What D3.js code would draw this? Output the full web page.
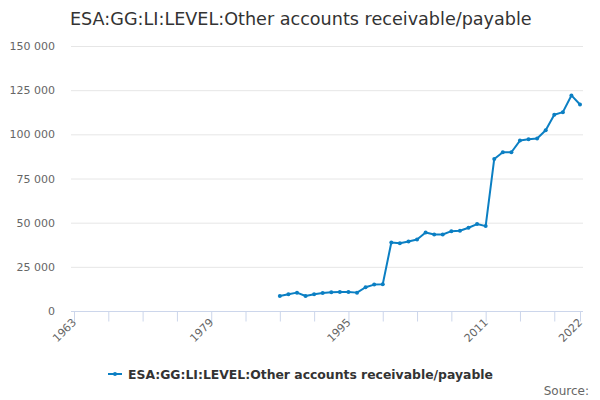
<!DOCTYPE html>
<html><head><meta charset="utf-8">
<script src="https://cdn.jsdelivr.net/npm/d3@7"></script>
<style>body{margin:0;background:#fff;}svg{display:block;font-family:"DejaVu Sans",sans-serif;}</style>
</head><body>
<svg id="c" width="600" height="400"></svg>
<script>
const title = "ESA:GG:LI:LEVEL:Other accounts receivable/payable";
const seriesName = "ESA:GG:LI:LEVEL:Other accounts receivable/payable";
const years = d3.range(1987, 2023);
const values = [8500, 9470, 10400, 8500, 9500, 10200, 10590, 10780, 10780, 10400,
  13430, 14950, 15140, 38780, 38400, 39350, 40480, 44450, 43320, 43320,
  45210, 45400, 47100, 49190, 48050, 86080, 89860, 89860, 96480, 97240,
  97620, 102340, 111050, 112560, 122020, 116910];
const yTicks = [0, 25000, 50000, 75000, 100000, 125000, 150000];
const xLabelYears = [1963, 1979, 1995, 2011, 2022];
const xTickYears = [1963,1967,1971,1975,1979,1983,1987,1991,1995,1999,2003,2007,2011,2015,2019,2022];

const svg = d3.select("#c");
const L = 71, R = 583, T = 46, B = 311;
const x = d3.scaleLinear().domain([1963, 2022]).range([74, 580]);
const y = d3.scaleLinear().domain([0, 150000]).range([B, T]);
const fmt = v => d3.format(",")(v).replace(/,/g, " ");

svg.append("text").attr("x", 70).attr("y", 25).attr("font-size", 17.6).attr("fill", "#333").text(title);

// grid
svg.append("g").selectAll("line").data(yTicks.filter(d => d > 0)).join("line")
  .attr("x1", L).attr("x2", R).attr("y1", d => y(d) + 0.5).attr("y2", d => y(d) + 0.5)
  .attr("stroke", "#e6e6e6").attr("stroke-width", 1);
svg.append("g").selectAll("text").data(yTicks).join("text")
  .attr("x", 55).attr("y", d => y(d) + 4).attr("text-anchor", "end")
  .attr("font-size", 11).attr("fill", "#666").text(fmt);

// x axis
const xa = svg.append("g").attr("transform", `translate(0,${B + 0.5})`)
  .call(d3.axisBottom(x).tickValues(xTickYears).tickSize(10).tickFormat(""));
xa.select(".domain").remove();
xa.selectAll(".tick line").attr("stroke", "#ccd6eb");
svg.append("line").attr("x1", L).attr("x2", R).attr("y1", B + 0.5).attr("y2", B + 0.5).attr("stroke", "#ccd6eb");
svg.append("g").selectAll("text").data(xLabelYears).join("text")
  .attr("transform", d => `translate(${x(d) + 3},${B + 12}) rotate(-45)`)
  .attr("text-anchor", "end").attr("font-size", 11).attr("fill", "#666").text(d => d);

// series
const col = "#0b7fc3";
const data = years.map((yr, i) => ({yr, v: values[i]}));
svg.append("path").datum(data).attr("fill", "none").attr("stroke", col).attr("stroke-width", 2)
  .attr("stroke-linejoin", "round")
  .attr("d", d3.line().x(d => x(d.yr)).y(d => y(d.v)));
svg.append("g").selectAll("circle").data(data).join("circle")
  .attr("cx", d => x(d.yr)).attr("cy", d => y(d.v)).attr("r", 2).attr("fill", col);

// legend
const lg = svg.append("g");
lg.append("line").attr("x1", 108).attr("x2", 122).attr("y1", 374).attr("y2", 374).attr("stroke", col).attr("stroke-width", 2);
lg.append("circle").attr("cx", 115).attr("cy", 374).attr("r", 2).attr("fill", col);
lg.append("text").attr("x", 128).attr("y", 378.5).attr("font-size", 12.4).attr("font-weight", "bold").attr("fill", "#333").text(seriesName);

svg.append("text").attr("x", 589).attr("y", 395).attr("text-anchor", "end").attr("font-size", 12).attr("fill", "#666").text("Source:");
</script>
</body></html>
